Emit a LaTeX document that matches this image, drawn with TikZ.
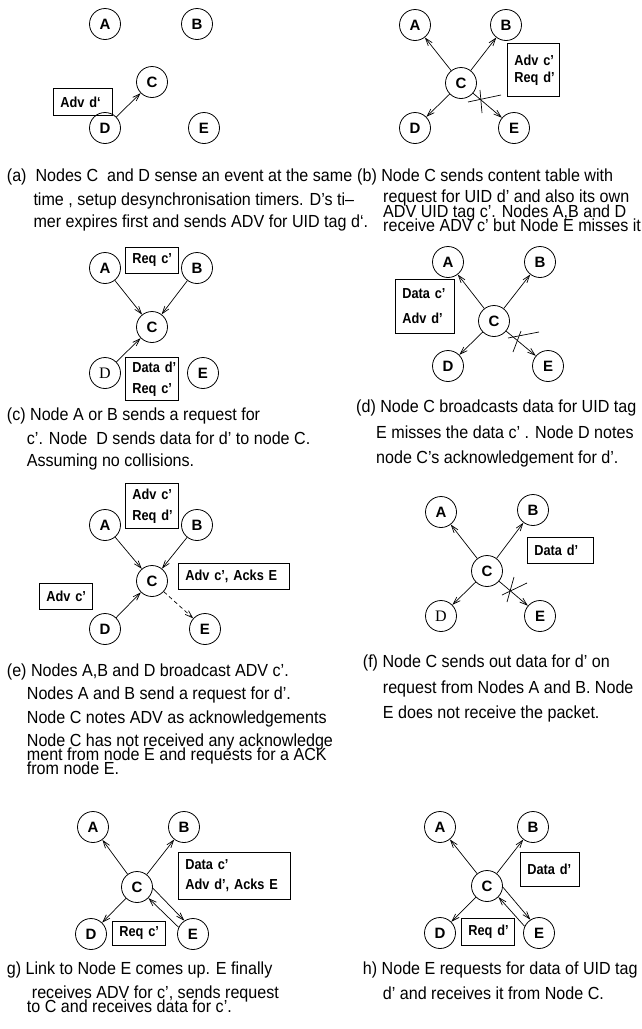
\documentclass[tikz,border=0pt]{standalone}
\usepackage{fontspec}
\setmainfont{Liberation Sans}[FakeStretch=0.92]
\newfontfamily\lblfont{Liberation Sans}[UprightFont={* Bold},FakeStretch=0.88]
\newfontfamily\ndfont{Liberation Sans}[UprightFont={* Bold}]
\newfontfamily\serifD{Liberation Serif}
\usetikzlibrary{arrows.meta}
\newcommand\bxf[1]{\lblfont\fontsize{14.5}{#1}\selectfont}
\newcommand\bxl[1]{\mbox{#1}}
\begin{document}
\begin{tikzpicture}[x=1pt,y=-1pt,
  nd/.style={circle,draw,line width=0.8pt,minimum size=31pt,inner sep=0pt,font=\ndfont\fontsize{15}{15}\selectfont},
  sd/.style={nd,font=\serifD\fontsize{16}{16}\selectfont},
  lbl/.style={draw,line width=0.8pt,anchor=north west,inner xsep=7pt,inner ysep=0pt,align=left,font=\bxf{18}},
  captxt/.style={anchor=base west,inner sep=0pt,font=\fontsize{17.5}{20}\selectfont},
  arr/.style={-{Straight Barb[length=7.5pt,width=5pt]},line width=0.7pt},
  xmark/.style={line width=0.7pt}
]
\useasboundingbox (0,0) rectangle (642,1029);

% ---------- (a)
\node[nd] (aA) at (105,24) {A};
\node[nd] (aB) at (197,24) {B};
\node[nd] (aC) at (152,82) {C};
\node[nd] (aD) at (105,128) {D};
\node[nd] (aE) at (204,128) {E};
\node[lbl,minimum width=59pt,minimum height=27pt,text width=45pt] (aX) at (53,88) {\bxl{Adv d‘}};
\draw[arr] (aD) -- (aC);
\node[captxt] (ta1) at (6.7,181) {(a)\ \ Nodes C\ \ and D sense an event at the same};
\node[captxt] (ta2) at (33.3,205) {time , setup desynchronisation timers. D’s ti–};
\node[captxt] (ta3) at (33.3,227.5) {mer expires first and sends ADV for UID tag d‘.};

% ---------- (b)
\node[nd] (bA) at (415,25) {A};
\node[nd] (bB) at (506,25) {B};
\node[nd] (bC) at (461,83) {C};
\node[nd] (bD) at (415,128) {D};
\node[nd] (bE) at (514,128) {E};
\node[lbl,minimum width=52pt,minimum height=53pt,text width=38pt,font=\bxf{17}] (bX) at (507,43) {\bxl{Adv c’}\\\bxl{Req d’}};
\draw[arr] (bC) -- (bA);
\draw[arr] (bC) -- (bB);
\draw[arr] (bC) -- (bD);
\draw[arr] (bC) -- (bE);
\draw[xmark] (468,102) -- (501,95);
\draw[xmark] (480,90) -- (482,113);
\node[captxt] (tb1) at (357,181) {(b) Node C sends content table with};
\node[captxt] (tb2) at (383,202.5) {request for UID d’ and also its own};
\node[captxt] (tb3) at (383,217) {ADV UID tag c’. Nodes A,B and D};
\node[captxt] (tb4) at (383,231) {receive ADV c’ but Node E misses it};

% ---------- (c)
\node[nd] (cA) at (105,268) {A};
\node[nd] (cB) at (197,268) {B};
\node[nd] (cC) at (152,327) {C};
\node[sd] (cD) at (105,373) {D};
\node[nd] (cE) at (203,373) {E};
\node[lbl,minimum width=53pt,minimum height=26pt,text width=39pt] (cX) at (125,247) {\bxl{Req c’}};
\node[lbl,minimum width=53pt,minimum height=43pt,text width=39pt,font=\bxf{21}] (cY) at (125,357) {\bxl{Data d’}\\\bxl{Req c’}};
\draw[arr] (cA) -- (cC);
\draw[arr] (cB) -- (cC);
\draw[arr] (cD) -- (cC);
\node[captxt] (tc1) at (6.7,420) {(c) Node A or B sends a request for};
\node[captxt] (tc2) at (26.7,444) {c’. Node\ \ D sends data for d’ to node C.};
\node[captxt] (tc3) at (26.7,466.7) {Assuming no collisions.};

% ---------- (d)
\node[nd] (dA) at (448,262) {A};
\node[nd] (dB) at (540,262) {B};
\node[nd] (dC) at (494,321) {C};
\node[nd] (dD) at (448,366) {D};
\node[nd] (dE) at (548,366) {E};
\node[lbl,minimum width=59pt,minimum height=54pt,text width=45pt,font=\bxf{25}] (dX) at (395,279) {\bxl{Data c’}\\\bxl{Adv d’}};
\draw[arr] (dC) -- (dA);
\draw[arr] (dC) -- (dB);
\draw[arr] (dC) -- (dD);
\draw[arr] (dC) -- (dE);
\draw[xmark] (508,338) -- (539,332);
\draw[xmark] (513,352) -- (521,331);
\node[captxt] (td1) at (356,412) {(d) Node C broadcasts data for UID tag};
\node[captxt] (td2) at (376,438) {E misses the data c’ . Node D notes};
\node[captxt] (td3) at (376,463) {node C’s acknowledgement for d’.};

% ---------- (e)
\node[nd] (eA) at (105,525) {A};
\node[nd] (eB) at (197,525) {B};
\node[nd] (eC) at (152,581) {C};
\node[nd] (eD) at (105,629) {D};
\node[nd] (eE) at (205,629) {E};
\node[lbl,minimum width=53pt,minimum height=45pt,text width=39pt,font=\bxf{21}] (eX) at (125,483) {\bxl{Adv c’}\\\bxl{Req d’}};
\node[lbl,minimum width=111pt,minimum height=26pt,text width=97pt] (eY) at (178,563) {\bxl{Adv c’, Acks E}};
\node[lbl,minimum width=53pt,minimum height=26pt,text width=39pt] (eZ) at (39,583) {\bxl{Adv c’}};
\draw[arr] (eA) -- (eC);
\draw[arr] (eB) -- (eC);
\draw[arr] (eD) -- (eC);
\draw[arr,dash pattern=on 4pt off 3pt] (eC) -- (eE);
\node[captxt] (te1) at (6.7,676) {(e) Nodes A,B and D broadcast ADV c’.};
\node[captxt] (te2) at (26.7,699) {Nodes A and B send a request for d’.};
\node[captxt] (te3) at (26.7,723) {Node C notes ADV as acknowledgements};
\node[captxt] (te4) at (26.7,746) {Node C has not received any acknowledge};
\node[captxt] (te5) at (26.7,760.5) {ment from node E and requests for a ACK};
\node[captxt] (te6) at (26.7,774) {from node E.};

% ---------- (f)
\node[nd] (fA) at (441,512) {A};
\node[nd] (fB) at (533,510) {B};
\node[nd] (fC) at (487,571) {C};
\node[sd] (fD) at (441,616) {D};
\node[nd] (fE) at (540,616) {E};
\node[lbl,minimum width=66pt,minimum height=26pt,text width=52pt] (fX) at (527,537) {\bxl{Data d’}};
\draw[arr] (fC) -- (fA);
\draw[arr] (fC) -- (fB);
\draw[arr] (fC) -- (fD);
\draw[arr] (fC) -- (fE);
\draw[xmark] (502,595) -- (527,583);
\draw[xmark] (507,602) -- (514,577);
\node[captxt] (tf1) at (362.7,667) {(f) Node C sends out data for d’ on};
\node[captxt] (tf2) at (382.7,693) {request from Nodes A and B. Node};
\node[captxt] (tf3) at (382.7,718) {E does not receive the packet.};

% ---------- (g)
\node[nd] (gA) at (93,827) {A};
\node[nd] (gB) at (184,827) {B};
\node[nd] (gC) at (137,887) {C};
\node[nd] (gD) at (91,934) {D};
\node[nd] (gE) at (193,934) {E};
\node[lbl,minimum width=112pt,minimum height=47pt,text width=98pt,font=\bxf{20}] (gX) at (178,852) {\bxl{Data c’}\\\bxl{Adv d’, Acks E}};
\node[lbl,minimum width=53pt,minimum height=24pt,text width=39pt] (gY) at (112,921) {\bxl{Req c’}};
\draw[arr] (gC) -- (gA);
\draw[arr] (gC) -- (gB);
\draw[arr] (gC) -- (gD);
\draw[arr] (gC.-4) -- (gE.123);
\draw[arr] (gE.155) -- (gC.-44);
\node[captxt] (tg1) at (6.7,974) {g) Link to Node E comes up. E finally};
\node[captxt] (tg2) at (31.7,998.5) {receives ADV for c’, sends request};
\node[captxt] (tg3) at (26.7,1012.7) {to C and receives data for c’.};

% ---------- (h)
\node[nd] (hA) at (440,827) {A};
\node[nd] (hB) at (533,827) {B};
\node[nd] (hC) at (487,886) {C};
\node[nd] (hD) at (440,933) {D};
\node[nd] (hE) at (539,933) {E};
\node[lbl,minimum width=59pt,minimum height=34pt,text width=45pt] (hX) at (520,852) {\bxl{Data d’}};
\node[lbl,minimum width=53pt,minimum height=27pt,text width=39pt] (hY) at (461,918) {\bxl{Req d’}};
\draw[arr] (hC) -- (hA);
\draw[arr] (hC) -- (hB);
\draw[arr] (hC) -- (hD);
\draw[arr] (hC.-4) -- (hE.123);
\draw[arr] (hE.155) -- (hC.-44);
\node[captxt] (th1) at (362.7,974) {h) Node E requests for data of UID tag};
\node[captxt] (th2) at (382.7,999) {d’ and receives it from Node C.};
\end{tikzpicture}
\end{document}
